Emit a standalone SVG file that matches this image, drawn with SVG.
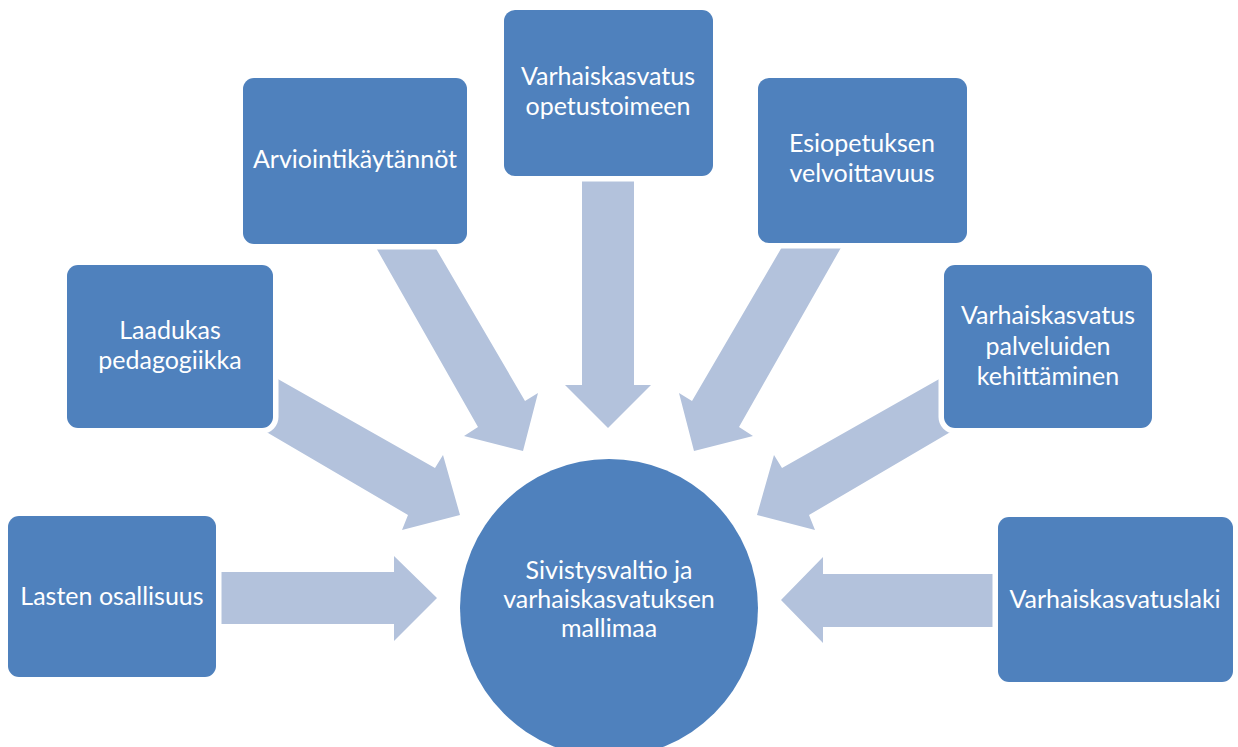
<svg xmlns="http://www.w3.org/2000/svg" width="1238" height="747" viewBox="0 0 1238 747">
  <style>
    .arrow { fill: #B3C2DC; }
    .box { fill: #4F81BD; stroke: #FFFFFF; stroke-width: 11; paint-order: stroke; }
    .lbl { font-family: Lato, "Liberation Sans", sans-serif; font-size: 25px; fill: #FFFFFF; text-anchor: middle; }
  </style>
  <rect width="1238" height="747" fill="#FFFFFF"/>
  <g id="connectors">
    <polygon class="arrow" points="200,572 394,572 394,556 437,598 394,641 394,624 200,624"/>
    <polygon class="arrow" points="253,365 435,468 443,455 460,515 402,530 408,515 241,417"/>
    <polygon class="arrow" points="362,223 421,223 525,401 538,393 523,451 464,436 478,427"/>
    <polygon class="arrow" points="582,150 634,150 634,385 651,385 608,428 565,385 582,385"/>
    <polygon class="arrow" points="855,223 796,223 692,401 679,393 694,451 753,436 739,427"/>
    <polygon class="arrow" points="964,365 782,468 774,455 757,515 815,530 809,515 976,417"/>
    <polygon class="arrow" points="1020,574 823,574 823,557 781,600 823,643 823,627 1020,627"/>
  </g>
  <g id="center">
    <circle cx="609" cy="608" r="149" fill="#4F81BD"/>
    <text class="lbl" x="609" y="579">Sivistysvaltio ja</text>
    <text class="lbl" x="609" y="608">varhaiskasvatuksen</text>
    <text class="lbl" x="609" y="637">mallimaa</text>
  </g>
  <g id="lasten">
    <rect class="box" x="8" y="516" width="208" height="161" rx="11"/>
    <text class="lbl" x="112" y="605">Lasten osallisuus</text>
  </g>
  <g id="laadukas">
    <rect class="box" x="67" y="265" width="206" height="163" rx="11"/>
    <text class="lbl" x="170" y="339">Laadukas</text>
    <text class="lbl" x="170" y="369">pedagogiikka</text>
  </g>
  <g id="arviointi">
    <rect class="box" x="243" y="78" width="224" height="166" rx="11"/>
    <text class="lbl" x="355" y="168">Arviointikäytännöt</text>
  </g>
  <g id="opetustoimeen">
    <rect class="box" x="504" y="10" width="209" height="166" rx="11"/>
    <text class="lbl" x="608" y="85">Varhaiskasvatus</text>
    <text class="lbl" x="608" y="115">opetustoimeen</text>
  </g>
  <g id="esiopetus">
    <rect class="box" x="758" y="78" width="209" height="165" rx="11"/>
    <text class="lbl" x="862" y="152">Esiopetuksen</text>
    <text class="lbl" x="862" y="182">velvoittavuus</text>
  </g>
  <g id="palvelut">
    <rect class="box" x="944" y="265" width="208" height="163" rx="11"/>
    <text class="lbl" x="1048" y="324">Varhaiskasvatus</text>
    <text class="lbl" x="1048" y="355">palveluiden</text>
    <text class="lbl" x="1048" y="385">kehittäminen</text>
  </g>
  <g id="laki">
    <rect class="box" x="998" y="517" width="235" height="165" rx="11"/>
    <text class="lbl" x="1115" y="608">Varhaiskasvatuslaki</text>
  </g>
</svg>
